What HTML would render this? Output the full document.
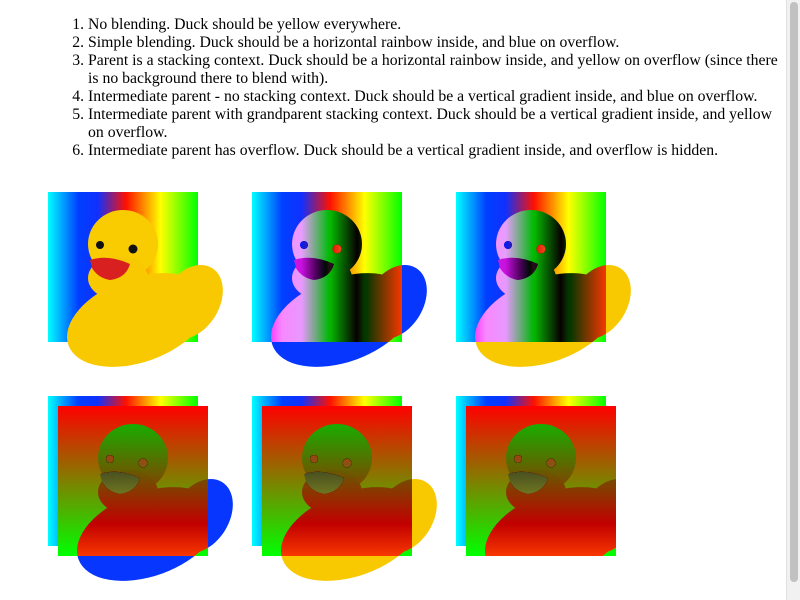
<!DOCTYPE html>
<html><head><meta charset="utf-8">
<style>
html,body{margin:0;padding:0;background:#fff;width:800px;height:600px;overflow:hidden}
ol{position:absolute;left:48px;top:8px;margin:8px 0 0 0;padding-left:40px;width:692px;font-family:"Liberation Serif",serif;font-size:15.75px;line-height:18px;color:#000}
svg{position:absolute;left:0;top:0}
.sb{position:absolute;left:786px;top:0;width:14px;height:600px;background:#f1f1f1;border-left:1px solid #e0e0e0;box-sizing:border-box}
.th{position:absolute;left:3px;top:2px;width:8px;height:580px;background:#c1c1c1;border-radius:4px}
</style></head><body>
<ol>
<li>No blending. Duck should be yellow everywhere.</li>
<li>Simple blending. Duck should be a horizontal rainbow inside, and blue on overflow.</li>
<li>Parent is a stacking context. Duck should be a horizontal rainbow inside, and yellow on overflow (since there is no background there to blend with).</li>
<li>Intermediate parent - no stacking context. Duck should be a vertical gradient inside, and blue on overflow.</li>
<li>Intermediate parent with grandparent stacking context. Duck should be a vertical gradient inside, and yellow on overflow.</li>
<li>Intermediate parent has overflow. Duck should be a vertical gradient inside, and overflow is hidden.</li>
</ol>
<svg width="786" height="600">
<defs>
<linearGradient id="rb" x1="0" x2="1" y1="0" y2="0">
<stop offset="0" stop-color="#00ffff"/><stop offset="0.2" stop-color="#0040ff"/><stop offset="0.33" stop-color="#1030ff"/>
<stop offset="0.52" stop-color="#ff1000"/><stop offset="0.75" stop-color="#ffff00"/><stop offset="1" stop-color="#00ff00"/>
</linearGradient>
<linearGradient id="vg" x1="0" x2="0" y1="0" y2="1">
<stop offset="0" stop-color="#ff0000"/><stop offset="1" stop-color="#00ff00"/>
</linearGradient>
<g id="duck">
<ellipse cx="90" cy="128" rx="74" ry="42" transform="rotate(-20 90 128)" fill="#f8c800"/>
<ellipse cx="143" cy="110" rx="28" ry="40" transform="rotate(32 143 110)" fill="#f8c800"/>
<ellipse cx="75" cy="52" rx="35" ry="34" fill="#f8cc00"/>
<ellipse cx="70" cy="86" rx="30" ry="22" fill="#f8c800"/>
<path d="M42,68 Q60,62 82,72 Q78,86 62,88 Q50,86 44,76 Z" fill="#d82020"/>
<circle cx="52" cy="53" r="4" fill="#111"/>
<circle cx="85" cy="57" r="4.5" fill="#111"/>
</g>
<clipPath id="c6"><rect x="466" y="406" width="150" height="150"/></clipPath>
</defs>
<g>
<rect x="48" y="192" width="150" height="150" fill="url(#rb)"/>
<use href="#duck" x="48" y="192"/>
</g>
<g>
<rect x="252" y="192" width="150" height="150" fill="url(#rb)"/>
<use href="#duck" x="252" y="192" style="mix-blend-mode:difference"/>
</g>
<g style="isolation:isolate">
<rect x="456" y="192" width="150" height="150" fill="url(#rb)"/>
<use href="#duck" x="456" y="192" style="mix-blend-mode:difference"/>
</g>
<g>
<rect x="48" y="396" width="150" height="150" fill="url(#rb)"/>
<rect x="58" y="406" width="150" height="150" fill="url(#vg)"/>
<use href="#duck" x="58" y="406" style="mix-blend-mode:difference"/>
</g>
<g style="isolation:isolate">
<rect x="252" y="396" width="150" height="150" fill="url(#rb)"/>
<rect x="262" y="406" width="150" height="150" fill="url(#vg)"/>
<use href="#duck" x="262" y="406" style="mix-blend-mode:difference"/>
</g>
<g style="isolation:isolate">
<rect x="456" y="396" width="150" height="150" fill="url(#rb)"/>
<rect x="466" y="406" width="150" height="150" fill="url(#vg)"/>
<g clip-path="url(#c6)" style="mix-blend-mode:difference"><use href="#duck" x="466" y="406"/></g>
</g>
</svg>
<div class="sb"><div class="th"></div></div>
</body></html>
